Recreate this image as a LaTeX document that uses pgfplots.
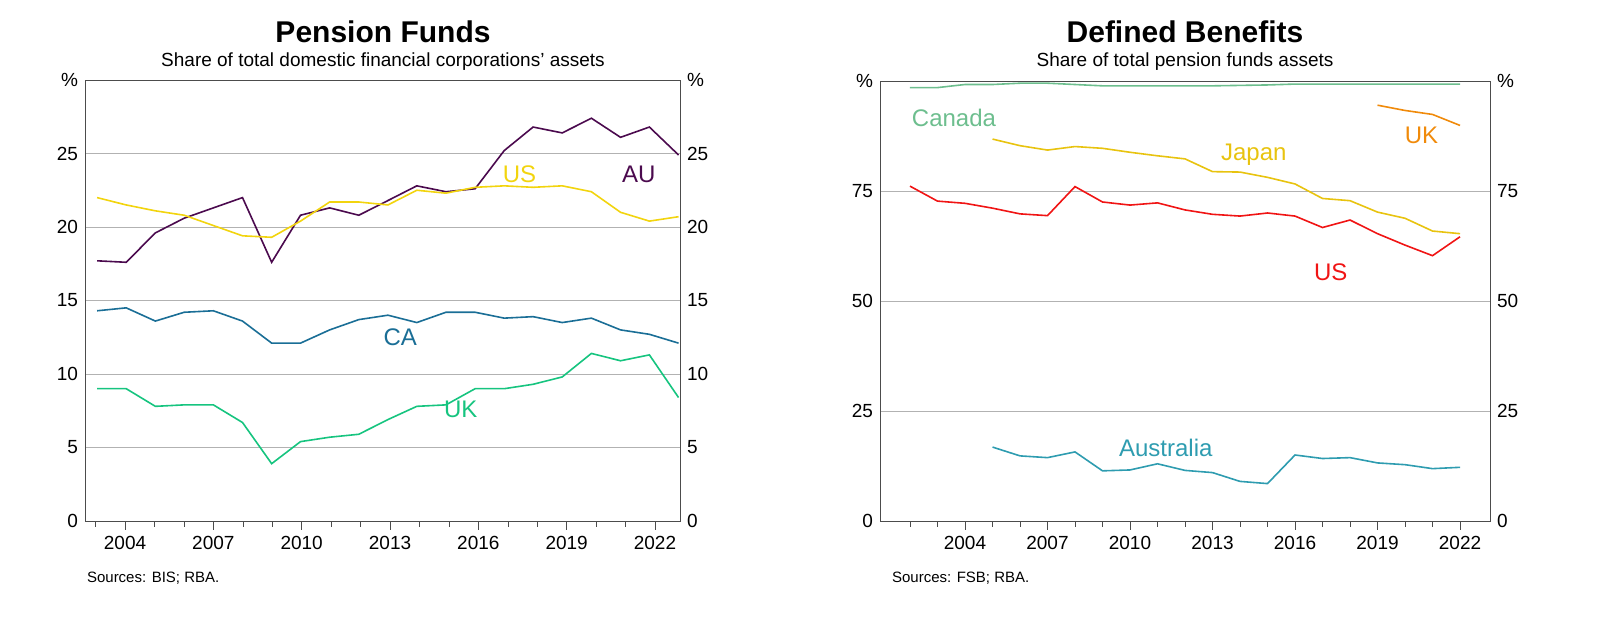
\documentclass[border=0pt]{standalone}
\usepackage{pgfplots}
\pgfplotsset{compat=1.18}
\usepackage{fontspec}
\setmainfont{Liberation Sans}
\definecolor{cAU}{HTML}{4B0A4E}
\definecolor{cUS}{HTML}{F2D40E}
\definecolor{cCA}{HTML}{1A6E96}
\definecolor{cUK}{HTML}{16C47F}
\definecolor{dCan}{HTML}{6DBE8E}
\definecolor{dJap}{HTML}{E8C30F}
\definecolor{dUK}{HTML}{F08A0A}
\definecolor{dUS}{HTML}{F01414}
\definecolor{dAus}{HTML}{2E9CB0}
\pgfplotsset{
 base/.style={scale only axis, axis line style={black!70}, tick style={black!70},
  tick label style={font=\fontsize{9.5}{10}\selectfont},
  /pgf/number format/assume math mode=true, /pgf/number format/1000 sep={},
  every axis plot/.append style={line width=0.8pt, mark=none}},
}
\begin{document}
\begin{tikzpicture}
\path (0pt,0pt) rectangle (800pt,315.5pt);
% ---------- left ----------
\begin{axis}[base, at={(42.5pt,55pt)}, anchor=south west, width=297.5pt, height=220.5pt,
 xmin=2002.64, xmax=2022.85, ymin=0, ymax=30,
 xtick={2004,2007,...,2022}, minor xtick={2003,...,2022}, xtick pos=bottom, xtick align=outside,
 ytick={0,5,...,30}, yticklabels={0,5,10,15,20,25,\%}, ytick style={draw=none},
 ymajorgrids, grid style={black!30}]
\addplot[cAU] coordinates {(2003.05,17.7)(2004.04,17.6)(2005.03,19.6)(2006.01,20.6)(2007.00,21.3)(2007.99,22.0)(2008.98,17.6)(2009.96,20.8)(2010.95,21.3)(2011.94,20.8)(2012.93,21.8)(2013.91,22.8)(2014.90,22.4)(2015.89,22.6)(2016.88,25.2)(2017.86,26.8)(2018.85,26.4)(2019.84,27.4)(2020.83,26.1)(2021.81,26.8)(2022.80,24.9)};
\addplot[cUS] coordinates {(2003.05,22.0)(2004.04,21.5)(2005.03,21.1)(2006.01,20.8)(2007.00,20.1)(2007.99,19.4)(2008.98,19.3)(2009.96,20.4)(2010.95,21.7)(2011.94,21.7)(2012.93,21.5)(2013.91,22.5)(2014.90,22.3)(2015.89,22.7)(2016.88,22.8)(2017.86,22.7)(2018.85,22.8)(2019.84,22.4)(2020.83,21.0)(2021.81,20.4)(2022.80,20.7)};
\addplot[cCA] coordinates {(2003.05,14.3)(2004.04,14.5)(2005.03,13.6)(2006.01,14.2)(2007.00,14.3)(2007.99,13.6)(2008.98,12.1)(2009.96,12.1)(2010.95,13.0)(2011.94,13.7)(2012.93,14.0)(2013.91,13.5)(2014.90,14.2)(2015.89,14.2)(2016.88,13.8)(2017.86,13.9)(2018.85,13.5)(2019.84,13.8)(2020.83,13.0)(2021.81,12.7)(2022.80,12.1)};
\addplot[cUK] coordinates {(2003.05,9.0)(2004.04,9.0)(2005.03,7.8)(2006.01,7.9)(2007.00,7.9)(2007.99,6.7)(2008.98,3.9)(2009.96,5.4)(2010.95,5.7)(2011.94,5.9)(2012.93,6.9)(2013.91,7.8)(2014.90,7.9)(2015.89,9.0)(2016.88,9.0)(2017.86,9.3)(2018.85,9.8)(2019.84,11.4)(2020.83,10.9)(2021.81,11.3)(2022.80,8.4)};
\node[cUS,font=\large] at (axis cs:2017.4,23.6) {US};
\node[cAU,font=\large] at (axis cs:2021.45,23.6) {AU};
\node[cCA,font=\large] at (axis cs:2013.35,12.5) {CA};
\node[cUK,font=\large] at (axis cs:2015.4,7.6) {UK};
\end{axis}
\begin{axis}[base, at={(42.5pt,55pt)}, anchor=south west, width=297.5pt, height=220.5pt,
 xmin=2002.64, xmax=2022.85, ymin=0, ymax=30, axis x line=none, axis y line*=right,
 ytick={0,5,...,30}, yticklabels={0,5,10,15,20,25,\%}, ytick style={draw=none}]
\addplot[draw=none] coordinates {(2010,10)};
\end{axis}
\node[font=\bfseries\fontsize{15}{16}\selectfont] at (191.5pt,299.5pt) {Pension Funds};
\node[font=\fontsize{9.5}{10}\selectfont] at (191.5pt,284.5pt) {Share of total domestic financial corporations' assets};
\node[anchor=west,font=\fontsize{7.5}{8}\selectfont] at (40pt,26.5pt) {Sources: BIS; RBA.};
% ---------- right ----------
\begin{axis}[base, at={(440pt,55pt)}, anchor=south west, width=305pt, height=220pt,
 xmin=2000.91, xmax=2023.09, ymin=0, ymax=100,
 xtick={2004,2007,...,2022}, minor xtick={2002,...,2022}, xtick pos=bottom, xtick align=outside,
 ytick={0,25,...,100}, yticklabels={0,25,50,75,\%}, ytick style={draw=none},
 ymajorgrids, grid style={black!30}]
\addplot[dCan] coordinates {(2002,98.5)(2003,98.5)(2004,99.2)(2005,99.2)(2006,99.5)(2007,99.5)(2008,99.2)(2009,98.9)(2010,98.9)(2011,98.9)(2012,98.9)(2013,98.9)(2014,99.0)(2015,99.1)(2016,99.3)(2017,99.3)(2018,99.3)(2019,99.3)(2020,99.3)(2021,99.3)(2022,99.3)};
\addplot[dUS] coordinates {(2002,76.1)(2003,72.7)(2004,72.2)(2005,71.1)(2006,69.8)(2007,69.4)(2008,76.0)(2009,72.5)(2010,71.8)(2011,72.3)(2012,70.7)(2013,69.7)(2014,69.3)(2015,70.0)(2016,69.3)(2017,66.7)(2018,68.4)(2019,65.3)(2020,62.7)(2021,60.3)(2022,64.6)};
\addplot[dJap] coordinates {(2005,86.8)(2006,85.3)(2007,84.3)(2008,85.1)(2009,84.7)(2010,83.8)(2011,83.0)(2012,82.3)(2013,79.4)(2014,79.3)(2015,78.1)(2016,76.6)(2017,73.3)(2018,72.8)(2019,70.2)(2020,68.8)(2021,65.9)(2022,65.3)};
\addplot[dUK] coordinates {(2019,94.5)(2020,93.3)(2021,92.4)(2022,89.9)};
\addplot[dAus] coordinates {(2005,16.8)(2006,14.8)(2007,14.4)(2008,15.7)(2009,11.4)(2010,11.6)(2011,13.0)(2012,11.5)(2013,11.0)(2014,9.0)(2015,8.5)(2016,15.0)(2017,14.2)(2018,14.4)(2019,13.2)(2020,12.8)(2021,11.9)(2022,12.2)};
\node[dCan,font=\large] at (axis cs:2003.6,91.6) {Canada};
\node[dJap,font=\large] at (axis cs:2014.5,83.2) {Japan};
\node[dUK,font=\large] at (axis cs:2020.6,87.7) {UK};
\node[dUS,font=\large] at (axis cs:2017.3,56.6) {US};
\node[dAus,font=\large] at (axis cs:2011.3,16.6) {Australia};
\end{axis}
\begin{axis}[base, at={(440pt,55pt)}, anchor=south west, width=305pt, height=220pt,
 xmin=2000.91, xmax=2023.09, ymin=0, ymax=100, axis x line=none, axis y line*=right,
 ytick={0,25,...,100}, yticklabels={0,25,50,75,\%}, ytick style={draw=none}]
\addplot[draw=none] coordinates {(2010,10)};
\end{axis}
\node[font=\bfseries\fontsize{15}{16}\selectfont] at (592.5pt,299.5pt) {Defined Benefits};
\node[font=\fontsize{9.5}{10}\selectfont] at (592.5pt,284.5pt) {Share of total pension funds assets};
\node[anchor=west,font=\fontsize{7.5}{8}\selectfont] at (442.5pt,26.5pt) {Sources: FSB; RBA.};
\end{tikzpicture}
\end{document}
